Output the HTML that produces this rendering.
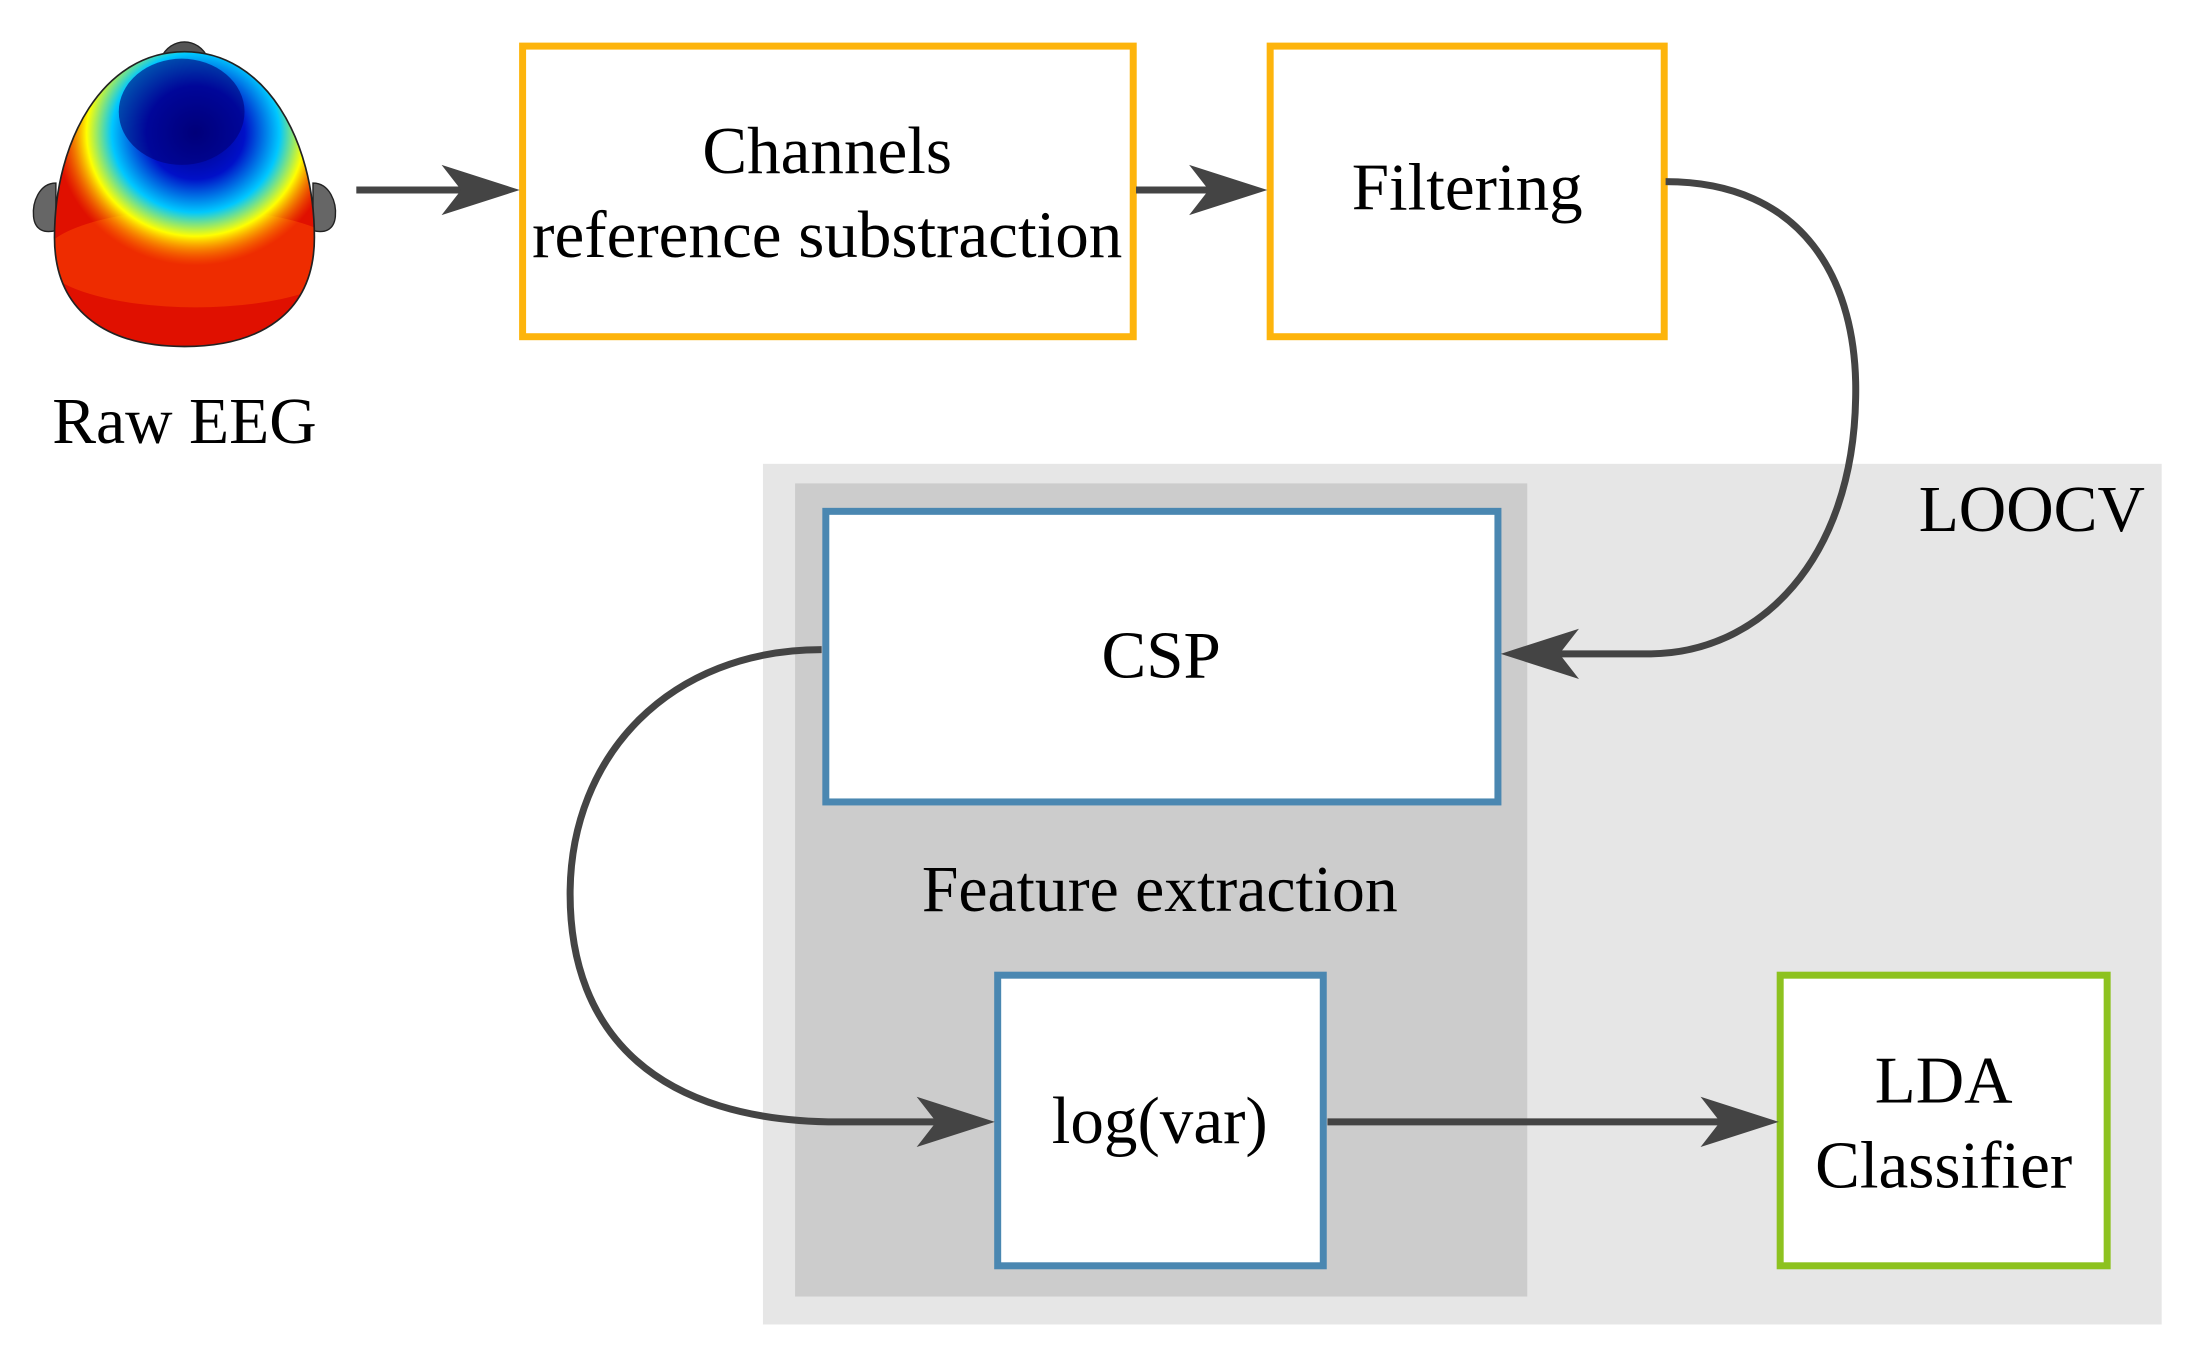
<!DOCTYPE html>
<html><head><meta charset="utf-8"><style>
html,body{margin:0;padding:0;background:#fff;}
svg{display:block;}
text{font-family:"Liberation Serif",serif;fill:#000;}
</style></head><body>
<svg width="2191" height="1358" viewBox="0 0 1568 972" preserveAspectRatio="none" xmlns="http://www.w3.org/2000/svg">
<defs>
<clipPath id="hc"><path d="M132,37 C190,37 225,100 225,170 C225,225 185,248 132,248 C79,248 39,225 39,170 C39,100 74,37 132,37 Z"/></clipPath>
<radialGradient id="blue" cx="0.5" cy="0.5" r="0.5">
<stop offset="0" stop-color="#00007a"/><stop offset="0.35" stop-color="#0010c8"/><stop offset="0.6" stop-color="#00c8ff"/><stop offset="0.78" stop-color="#ffff00"/><stop offset="1" stop-color="#ff8800" stop-opacity="0"/>
</radialGradient>
</defs>
<!-- head -->
<path d="M115,42 C122,26 142,26 149,42 Z" fill="#555" stroke="#222" stroke-width="1"/>
<path d="M40,131 C28,131 23,145 24,155 C25,165 32,167 40,165 Z" fill="#666" stroke="#222" stroke-width="1"/>
<path d="M224,131 C236,131 241,145 240,155 C239,165 232,167 224,165 Z" fill="#666" stroke="#222" stroke-width="1"/>
<g clip-path="url(#hc)">
<rect x="30" y="30" width="210" height="230" fill="#e01000"/>
<ellipse cx="140" cy="185" rx="110" ry="35" fill="#ff5000" opacity="0.45"/>
<ellipse cx="140" cy="95" rx="100" ry="95" fill="url(#blue)"/>
<ellipse cx="130" cy="80" rx="45" ry="38" fill="#00007a" opacity="0.6"/>
</g>
<path d="M132,37 C190,37 225,100 225,170 C225,225 185,248 132,248 C79,248 39,225 39,170 C39,100 74,37 132,37 Z" fill="none" stroke="#222" stroke-width="1.2"/>
<text x="132" y="317" font-size="47" text-anchor="middle">Raw EEG</text>

<!-- backgrounds -->
<rect x="546" y="332" width="1001" height="616" fill="#e6e6e6"/>
<rect x="569" y="346" width="524" height="582" fill="#cccccc"/>
<text x="1535" y="380" font-size="47" text-anchor="end">LOOCV</text>
<text x="830" y="652" font-size="47" text-anchor="middle">Feature extraction</text>

<!-- boxes -->
<rect x="374" y="33" width="437" height="208" fill="#fff" stroke="#fdb40c" stroke-width="5"/>
<text x="592" y="124" font-size="48" text-anchor="middle">Channels</text>
<text x="592" y="184" font-size="48" text-anchor="middle">reference substraction</text>
<rect x="909" y="33" width="282" height="208" fill="#fff" stroke="#fdb40c" stroke-width="5"/>
<text x="1050" y="150" font-size="48" text-anchor="middle">Filtering</text>
<rect x="591" y="366" width="481" height="208" fill="#fff" stroke="#4a87b1" stroke-width="5"/>
<text x="831" y="485" font-size="48" text-anchor="middle">CSP</text>
<rect x="714" y="698" width="233" height="208" fill="#fff" stroke="#4a87b1" stroke-width="5"/>
<text x="830" y="818" font-size="48" text-anchor="middle">log(var)</text>
<rect x="1274" y="698" width="234" height="208" fill="#fff" stroke="#8dc21f" stroke-width="5"/>
<text x="1391" y="789" font-size="48" text-anchor="middle">LDA</text>
<text x="1391" y="850" font-size="48" text-anchor="middle">Classifier</text>

<!-- connectors -->
<g fill="none" stroke="#444" stroke-width="5">
<path d="M255,136 L360,136"/>
<path d="M813,136 L895,136"/>
<path d="M1192,130 C1290,130 1330,200 1328,285 C1326,400 1260,468 1180,468 L1088,468"/>
<path d="M588,465 C480,465 408,540 408,640 C408,740 470,803 600,803 L700,803"/>
<path d="M950,803 L1260,803"/>
</g>
<g fill="#444">
<path d="M372,136 L316,118 L330,136 L316,154 Z"/>
<path d="M907,136 L851,118 L865,136 L851,154 Z"/>
<path d="M1074,468 L1130,450 L1116,468 L1130,486 Z"/>
<path d="M712,803 L656,785 L670,803 L656,821 Z"/>
<path d="M1273,803 L1217,785 L1231,803 L1217,821 Z"/>
</g>
</svg>
</body></html>
